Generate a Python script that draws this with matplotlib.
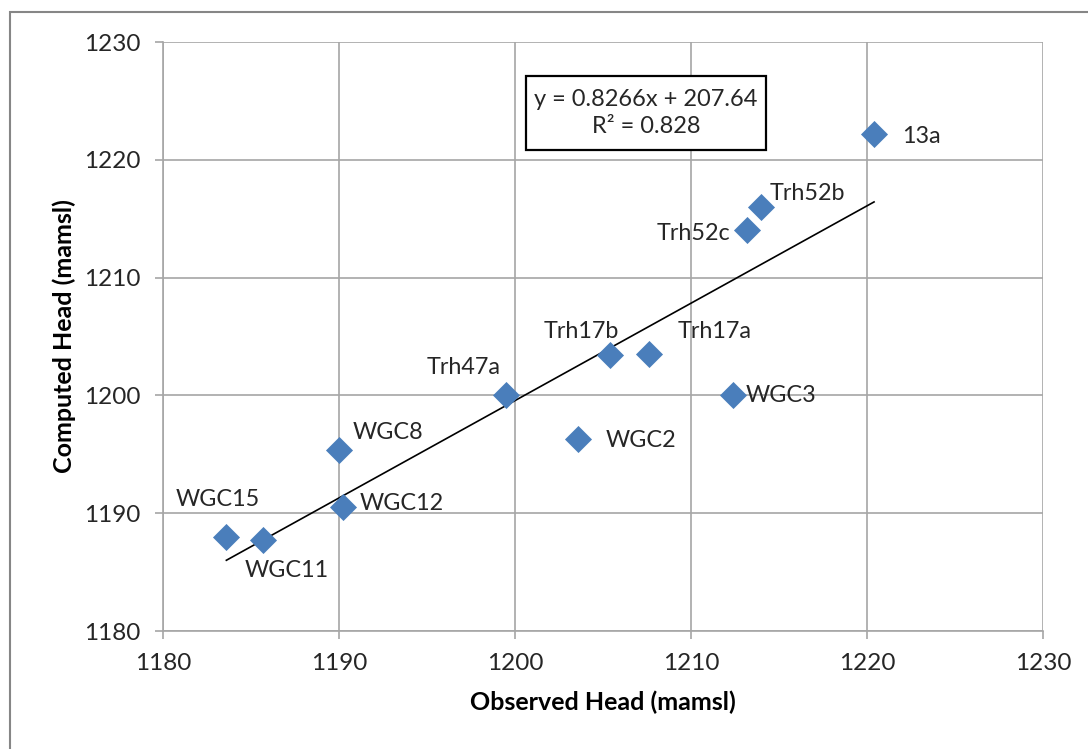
import numpy as np
import matplotlib.pyplot as plt
from matplotlib.patches import Rectangle

plt.rcParams['font.family'] = ['Lato', 'DejaVu Sans']

# data
wells    = ['WGC15', 'WGC11', 'WGC8', 'WGC12', 'Trh47a', 'WGC2', 'Trh17b',
            'Trh17a', 'WGC3', 'Trh52c', 'Trh52b', '13a']
observed = [1183.6, 1185.7, 1190.0, 1190.2, 1199.5, 1203.6, 1205.4,
            1207.6, 1212.4, 1213.2, 1214.0, 1220.4]
computed = [1188.0, 1187.7, 1195.4, 1190.5, 1200.0, 1196.3, 1203.4,
            1203.5, 1200.0, 1214.0, 1216.0, 1222.2]

# trendline as printed on the chart
SLOPE     = 0.8266
INTERCEPT = 207.64
R2        = 0.828

# label offsets in points (dx, dy, ha)
label_pos = {
    'WGC15':  (-6, 27, 'center'),
    'WGC11':  (17, -22, 'center'),
    'WGC8':   (10, 12, 'left'),
    'WGC12':  (12, 3, 'left'),
    'Trh47a': (-4, 20, 'right'),
    'WGC2':   (20, -1, 'left'),
    'Trh17b': (-21, 17, 'center'),
    'Trh17a': (21, 16, 'left'),
    'WGC3':   (9, 0, 'left'),
    'Trh52c': (-12, -2, 'right'),
    'Trh52b': (6, 10, 'left'),
    '13a':    (20, -2, 'left'),
}

GRID = '#a6a6a6'
BLUE = '#4a7ebb'

fig = plt.figure(figsize=(10.88, 7.49), dpi=100)
ax = fig.add_axes([163/1088, 1 - 631/749, 880/1088, 589/749])

# outer chart border
fig.patches.append(Rectangle((10/1088, -0.1), 1.2, 1 - 12/749 + 0.1,
                             transform=fig.transFigure, fill=False,
                             edgecolor='#868686', linewidth=1.5))

ax.scatter(observed, computed, marker='D', s=190, color=BLUE, zorder=3,
           linewidths=0)

xs = np.array([min(observed), max(observed)])
ax.plot(xs, SLOPE * xs + INTERCEPT, color='black', linewidth=1.2, zorder=2)

for name, xo, yo in zip(wells, observed, computed):
    dx, dy, ha = label_pos[name]
    ax.annotate(name, (xo, yo), xytext=(dx, dy), textcoords='offset points',
                ha=ha, va='center', fontsize=16.8, color='#262626')

# trendline equation box
ax.add_patch(Rectangle((0.4125, 0.8166), 0.2727, 0.1257, transform=ax.transAxes,
                       facecolor='white', edgecolor='black', linewidth=1.6,
                       zorder=4))
ax.text(0.549, 0.8795, f'y = {SLOPE}x + {INTERCEPT}\nR² = {R2}',
        transform=ax.transAxes, ha='center', va='center', fontsize=17,
        multialignment='center', linespacing=1.35, color='#262626', zorder=5)

ax.set_xlim(1180, 1230)
ax.set_ylim(1180, 1230)
ax.set_xticks(np.arange(1180, 1231, 10))
ax.set_yticks(np.arange(1180, 1231, 10))
ax.grid(True, color=GRID, linewidth=1.2)
ax.set_axisbelow(True)
for s in ax.spines.values():
    s.set_visible(False)
ax.spines['left'].set_visible(True)
ax.spines['bottom'].set_visible(True)
ax.spines['left'].set_color(GRID)
ax.spines['bottom'].set_color(GRID)
ax.spines['left'].set_linewidth(1.2)
ax.spines['bottom'].set_linewidth(1.2)
ax.tick_params(direction='out', length=6, width=1.2, color=GRID,
               labelsize=17.5, labelcolor='#262626', pad=10)

ax.set_xlabel('Observed Head (mamsl)', fontsize=18, fontweight='bold',
              labelpad=12)
ax.set_ylabel('Computed Head (mamsl)', fontsize=18, fontweight='bold',
              labelpad=6)

fig.savefig('out.png', dpi=100)
